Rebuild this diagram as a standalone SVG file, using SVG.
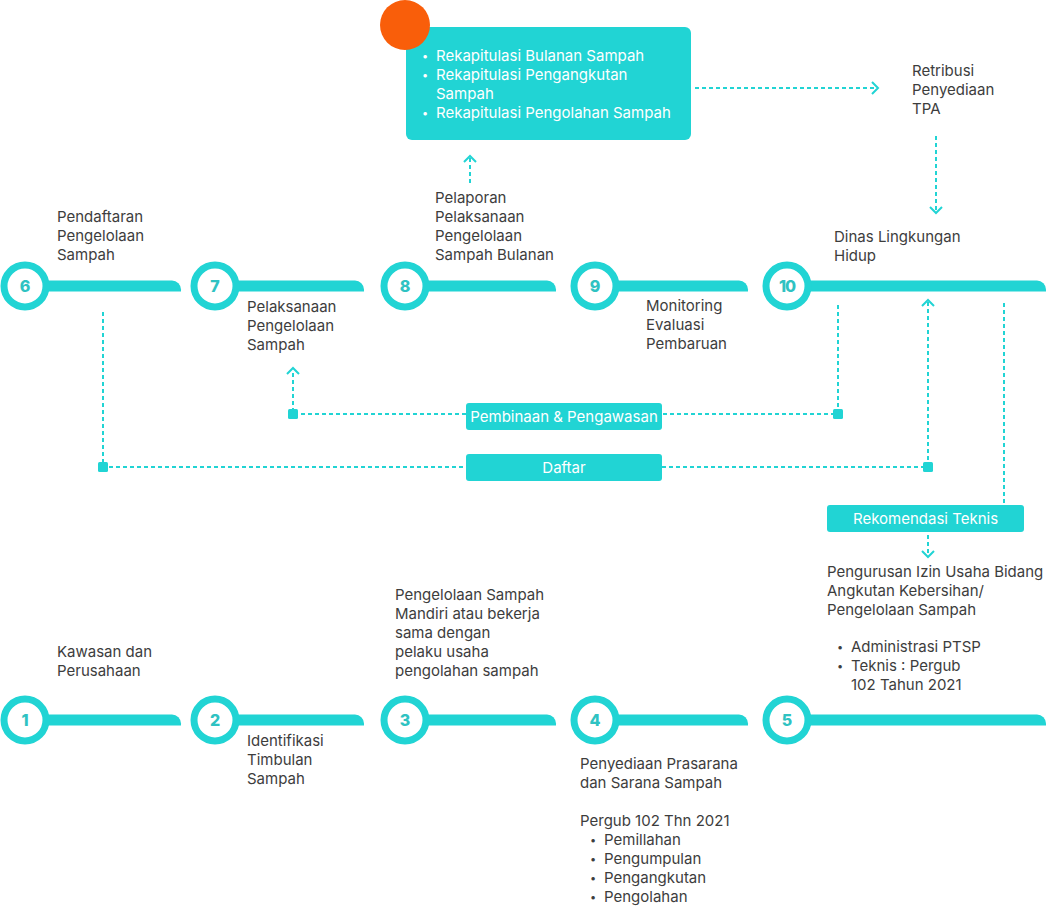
<svg xmlns="http://www.w3.org/2000/svg" width="1046" height="906" viewBox="0 0 1046 906">
<defs>
<style>
.t{font-family:Inter,"Noto Sans",sans-serif;font-size:15px;fill:#3d3d3d}
.w{font-family:Inter,"Noto Sans",sans-serif;font-size:15px;fill:#ffffff}
.b{font-size:11px}
.n{font-family:Inter,"Noto Sans",sans-serif;font-size:16px;font-weight:800;fill:#2fc2c2;text-anchor:middle}
.ring{fill:#ffffff;stroke:#21d4d4;stroke-width:7}
.bar{fill:#21d4d4}
.box{fill:#21d4d4}
.d{fill:none;stroke:#21d4d4;stroke-width:2;stroke-dasharray:4 3}
.ch{fill:none;stroke:#21d4d4;stroke-width:2}
.sq{fill:#21d4d4}
</style>
</defs>
<rect width="1046" height="906" fill="#ffffff"/>

<g id="connectors">
  <path class="d" d="M695 88 H876"/>
  <path class="ch" d="M872 82 L878 88 L872 94"/>
  <path class="d" d="M470 183 V158"/>
  <path class="ch" d="M464 162 L470 156 L476 162"/>
  <path class="d" d="M936 136 V212"/>
  <path class="ch" d="M930 207 L936 213 L942 207"/>
  <path class="d" d="M103 312 V467 H466"/>
  <path class="d" d="M662 467 H928 V302"/>
  <path class="ch" d="M922 306 L928 300 L934 306"/>
  <path class="d" d="M838 305 V414 H662"/>
  <path class="d" d="M466 414 H293 V370"/>
  <path class="ch" d="M287 374 L293 368 L299 374"/>
  <path class="d" d="M1004 303 V503"/>
  <path class="d" d="M928 535 V556"/>
  <path class="ch" d="M922 551 L928 557 L934 551"/>
  <rect class="sq" x="98" y="462" width="10" height="10" rx="1.5"/>
  <rect class="sq" x="923" y="462" width="10" height="10" rx="1.5"/>
  <rect class="sq" x="288" y="409" width="10" height="10" rx="1.5"/>
  <rect class="sq" x="833" y="409" width="10" height="10" rx="1.5"/>
</g>

<g id="rekap">
  <rect class="box" x="406" y="27" width="285" height="113" rx="6"/>
  <circle cx="405" cy="25" r="25" fill="#f95e0a"/>
  <text class="w b" x="422" y="60">•</text><text class="w" x="436" y="61">Rekapitulasi Bulanan Sampah</text>
  <text class="w b" x="422" y="79">•</text><text class="w" x="436" y="80">Rekapitulasi Pengangkutan</text>
  <text class="w" x="436" y="99">Sampah</text>
  <text class="w b" x="422" y="117">•</text><text class="w" x="436" y="118">Rekapitulasi Pengolahan Sampah</text>
</g>

<g id="retribusi">
  <text class="t" x="912" y="76">Retribusi</text>
  <text class="t" x="912" y="95">Penyediaan</text>
  <text class="t" x="912" y="114">TPA</text>
</g>

<g id="node6">
  <path class="bar" d="M25 280.5 H172 A9 9 0 0 1 181 289.5 V291.5 H25 Z"/>
  <circle class="ring" cx="25" cy="286" r="21"/>
  <text class="n" x="25" y="292">6</text>
  <text class="t" x="57" y="222">Pendaftaran</text>
  <text class="t" x="57" y="241">Pengelolaan</text>
  <text class="t" x="57" y="260">Sampah</text>
</g>
<g id="node7">
  <path class="bar" d="M215 280.5 H355 A9 9 0 0 1 364 289.5 V291.5 H215 Z"/>
  <circle class="ring" cx="215" cy="286" r="21"/>
  <text class="n" x="215" y="292">7</text>
  <text class="t" x="247" y="312">Pelaksanaan</text>
  <text class="t" x="247" y="331">Pengelolaan</text>
  <text class="t" x="247" y="350">Sampah</text>
</g>
<g id="node8">
  <path class="bar" d="M405 280.5 H547 A9 9 0 0 1 556 289.5 V291.5 H405 Z"/>
  <circle class="ring" cx="405" cy="286" r="21"/>
  <text class="n" x="405" y="292">8</text>
  <text class="t" x="435" y="203">Pelaporan</text>
  <text class="t" x="435" y="222">Pelaksanaan</text>
  <text class="t" x="435" y="241">Pengelolaan</text>
  <text class="t" x="435" y="260">Sampah Bulanan</text>
</g>
<g id="node9">
  <path class="bar" d="M595 280.5 H739 A9 9 0 0 1 748 289.5 V291.5 H595 Z"/>
  <circle class="ring" cx="595" cy="286" r="21"/>
  <text class="n" x="595" y="292">9</text>
  <text class="t" x="646" y="311">Monitoring</text>
  <text class="t" x="646" y="330">Evaluasi</text>
  <text class="t" x="646" y="349">Pembaruan</text>
</g>
<g id="node10">
  <path class="bar" d="M787 280.5 H1037 A9 9 0 0 1 1046 289.5 V291.5 H787 Z"/>
  <circle class="ring" cx="787" cy="286" r="21"/>
  <text class="n" x="787" y="292" letter-spacing="-1">10</text>
  <text class="t" x="834" y="242">Dinas Lingkungan</text>
  <text class="t" x="834" y="261">Hidup</text>
</g>

<g id="pembinaan">
  <rect class="box" x="466" y="403" width="196" height="27" rx="3"/>
  <text class="w" x="564" y="422" text-anchor="middle">Pembinaan &amp; Pengawasan</text>
</g>
<g id="daftar">
  <rect class="box" x="466" y="454" width="196" height="27" rx="3"/>
  <text class="w" x="564" y="473" text-anchor="middle">Daftar</text>
</g>
<g id="rekomendasi">
  <rect class="box" x="827" y="505" width="197" height="27" rx="3"/>
  <text class="w" x="925.5" y="524" text-anchor="middle">Rekomendasi Teknis</text>
</g>

<g id="node1">
  <path class="bar" d="M25 714.5 H172 A9 9 0 0 1 181 723.5 V725.5 H25 Z"/>
  <circle class="ring" cx="25" cy="720" r="21"/>
  <text class="n" x="25" y="726">1</text>
  <text class="t" x="57" y="657">Kawasan dan</text>
  <text class="t" x="57" y="676">Perusahaan</text>
</g>
<g id="node2">
  <path class="bar" d="M215 714.5 H355 A9 9 0 0 1 364 723.5 V725.5 H215 Z"/>
  <circle class="ring" cx="215" cy="720" r="21"/>
  <text class="n" x="215" y="726">2</text>
  <text class="t" x="247" y="746">Identifikasi</text>
  <text class="t" x="247" y="765">Timbulan</text>
  <text class="t" x="247" y="784">Sampah</text>
</g>
<g id="node3">
  <path class="bar" d="M405 714.5 H547 A9 9 0 0 1 556 723.5 V725.5 H405 Z"/>
  <circle class="ring" cx="405" cy="720" r="21"/>
  <text class="n" x="405" y="726">3</text>
  <text class="t" x="395" y="600">Pengelolaan Sampah</text>
  <text class="t" x="395" y="619">Mandiri atau bekerja</text>
  <text class="t" x="395" y="638">sama dengan</text>
  <text class="t" x="395" y="657">pelaku usaha</text>
  <text class="t" x="395" y="676">pengolahan sampah</text>
</g>
<g id="node4">
  <path class="bar" d="M595 714.5 H739 A9 9 0 0 1 748 723.5 V725.5 H595 Z"/>
  <circle class="ring" cx="595" cy="720" r="21"/>
  <text class="n" x="595" y="726">4</text>
  <text class="t" x="580" y="769">Penyediaan Prasarana</text>
  <text class="t" x="580" y="788">dan Sarana Sampah</text>
  <text class="t" x="580" y="826">Pergub 102 Thn 2021</text>
  <text class="t b" x="590" y="844">•</text><text class="t" x="604" y="845">Pemillahan</text>
  <text class="t b" x="590" y="863">•</text><text class="t" x="604" y="864">Pengumpulan</text>
  <text class="t b" x="590" y="882">•</text><text class="t" x="604" y="883">Pengangkutan</text>
  <text class="t b" x="590" y="901">•</text><text class="t" x="604" y="902">Pengolahan</text>
</g>
<g id="node5">
  <path class="bar" d="M787 714.5 H1037 A9 9 0 0 1 1046 723.5 V725.5 H787 Z"/>
  <circle class="ring" cx="787" cy="720" r="21"/>
  <text class="n" x="787" y="726">5</text>
  <text class="t" x="827" y="577">Pengurusan Izin Usaha Bidang</text>
  <text class="t" x="827" y="596">Angkutan Kebersihan/</text>
  <text class="t" x="827" y="615">Pengelolaan Sampah</text>
  <text class="t b" x="837" y="651">•</text><text class="t" x="851" y="652">Administrasi PTSP</text>
  <text class="t b" x="837" y="670">•</text><text class="t" x="851" y="671">Teknis : Pergub</text>
  <text class="t" x="851" y="690">102 Tahun 2021</text>
</g>
</svg>
